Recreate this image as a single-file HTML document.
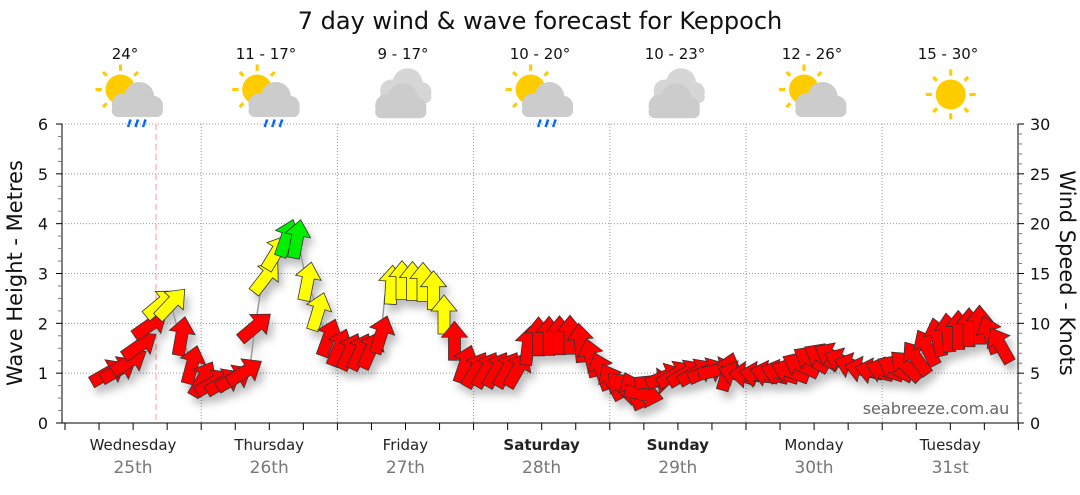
<!DOCTYPE html>
<html><head><meta charset="utf-8"><style>
body{margin:0;background:#fff;}
svg text{font-family:"DejaVu Sans","Liberation Sans",sans-serif;}
</style></head><body>
<svg id="s" width="1080" height="490" xmlns="http://www.w3.org/2000/svg">
<defs>
<filter id="sh" x="-20%" y="-20%" width="140%" height="160%"><feDropShadow dx="4" dy="7" stdDeviation="4" flood-color="#000" flood-opacity="0.25"/></filter>
<g id="cloud"><circle cx="-10" cy="2" r="9" fill="#ccc"/><circle cx="3" cy="-4" r="12" fill="#ccc"/><circle cx="14" cy="3" r="8" fill="#ccc"/><rect x="-19" y="2" width="41" height="10" rx="5" fill="#ccc"/></g>
<g id="sun"><circle r="12" fill="#fc0"/><g stroke="#fc0" stroke-width="2.5"><line x1="0" y1="-15" x2="0" y2="-20"/><line x1="0" y1="15" x2="0" y2="20"/><line x1="-15" y1="0" x2="-20" y2="0"/><line x1="15" y1="0" x2="20" y2="0"/><line x1="-11" y1="-11" x2="-14" y2="-14"/><line x1="11" y1="-11" x2="14" y2="-14"/><line x1="-11" y1="11" x2="-14" y2="14"/><line x1="11" y1="11" x2="14" y2="14"/></g></g>
<g id="rain" stroke="#06f" stroke-width="2"><line x1="-6" y1="0" x2="-8" y2="6"/><line x1="0" y1="0" x2="-2" y2="6"/><line x1="6" y1="0" x2="4" y2="6"/></g>
</defs>
<text x="540" y="29" font-size="24" text-anchor="middle" fill="#111">7 day wind &amp; wave forecast for Keppoch</text>
<g font-size="15" text-anchor="middle" fill="#111">
<text x="125" y="59">24°</text><text x="266" y="59">11 - 17°</text><text x="403" y="59">9 - 17°</text><text x="540" y="59">10 - 20°</text><text x="675" y="59">10 - 23°</text><text x="812" y="59">12 - 26°</text><text x="948" y="59">15 - 30°</text>
</g>
<g id="icons"></g>
<g id="grid" stroke="#999" stroke-width="1" stroke-dasharray="1,2"></g>
<line x1="156" y1="124" x2="156" y2="423" stroke="#f99" stroke-dasharray="6,4"/>
<g id="axes" stroke="#000" fill="none"></g>
<g id="labels"></g>
<text x="936" y="414" font-size="16" fill="#666" text-anchor="middle">seabreeze.com.au</text>
<g id="arrows" filter="url(#sh)"></g>
<text transform="translate(22,273) rotate(-90)" font-size="21" text-anchor="middle" fill="#111">Wave Height - Metres</text>
<text transform="translate(1060,273) rotate(90)" font-size="21" text-anchor="middle" fill="#111">Wind Speed - Knots</text>
</svg>
<script>
var NS="http://www.w3.org/2000/svg";
function el(p,t,a,txt){var e=document.createElementNS(NS,t);for(var k in a)e.setAttribute(k,a[k]);if(txt!=null)e.textContent=txt;p.appendChild(e);return e;}
var L=62,R=1018,T=124,B=423;
var grid=document.getElementById('grid');
for(var i=1;i<=6;i++){var y=B-i*(B-T)/6;el(grid,'line',{x1:L,y1:y,x2:R,y2:y});}
for(var d=1;d<7;d++){var x=65+d*136.2;el(grid,'line',{x1:x,y1:T,x2:x,y2:B});}
var ax=document.getElementById('axes');
el(ax,'line',{x1:L,y1:T,x2:L,y2:B});el(ax,'line',{x1:R,y1:T,x2:R,y2:B});el(ax,'line',{x1:L,y1:B,x2:R,y2:B});
var lab=document.getElementById('labels');
for(var i=0;i<=24;i++){var y=B-i*(B-T)/24;el(ax,'line',{x1:L-(i%4==0?6:4),y1:y,x2:L,y2:y,stroke:i%4==0?'#000':'#777'});}
for(var i=0;i<=6;i++){var y=B-i*(B-T)/6;el(lab,'text',{x:48,y:y+6,'font-size':16,'text-anchor':'end',fill:'#111'},i);}
for(var i=0;i<=30;i++){var y=B-i*(B-T)/30;el(ax,'line',{x1:R,y1:y,x2:R+(i%5==0?6:4),y2:y,stroke:i%5==0?'#000':'#777'});if(i%5==0)el(lab,'text',{x:1030,y:y+6,'font-size':16,fill:'#111'},i);}
for(var i=0;i<=28;i++){var x=65+i*136.2/4;el(ax,'line',{x1:x,y1:B,x2:x,y2:B+7});}
var days=[['Wednesday','25th'],['Thursday','26th'],['Friday','27th'],['Saturday','28th'],['Sunday','29th'],['Monday','30th'],['Tuesday','31st']];
days.forEach(function(d,i){var x=133+i*136.2;var b=(i==3||i==4);
el(lab,'text',{x:x,y:450,'font-size':15,'text-anchor':'middle',fill:'#222','font-weight':b?'bold':'normal'},d[0]);
el(lab,'text',{x:x,y:473,'font-size':17,'text-anchor':'middle',fill:'#777'},d[1]);});
var ic=document.getElementById('icons');
var types=['scr','scr','cc','scr','cc','sc','s'];
types.forEach(function(t,i){var x=128+i*136.7,y=97;var g=el(ic,'g',{transform:'translate('+x+','+y+') scale(1.25)'});
if(t=='s'){el(g,'use',{href:'#sun',x:2,y:-2});return;}
if(t=='cc'){el(g,'use',{href:'#cloud',x:2,y:-7,opacity:.8});el(g,'use',{href:'#cloud',x:-2,y:5});return;}
el(g,'use',{href:'#sun',x:-6,y:-6});el(g,'use',{href:'#cloud',x:6,y:4});
if(t=='scr')el(g,'use',{href:'#rain',x:8,y:18});});
var K=[[108,373,60,'R'],[125,368,60],[140,345,55],[150,325,55],[158,305,50,'Y'],[170,300,50,'Y'],[176,323,10,'R'],[185,345,10],[192,365,15],[200,378,20],[210,383,60],[225,382,60],[240,376,60],[250,367,55],[255,327,50],[262,283,40,'Y'],[270,270,35,'Y'],[278,247,30,'G'],[290,235,15,'G'],[298,240,10,'G'],[305,275,10,'Y'],[315,302,15,'Y'],[322,325,20,'R'],[332,345,20],[350,352,25],[368,352,25],[380,345,20],[385,295,10,'Y'],[395,280,0,'Y'],[430,283,0,'Y'],[440,305,0,'Y'],[450,330,0,'R'],[460,355,0],[468,370,30],[520,370,30],[525,350,10],[535,337,0],[575,335,0],[585,350,-10],[600,370,-20],[615,385,-30],[630,390,-60],[645,395,120],[655,380,80],[670,375,60],[700,372,60],[720,370,80],[740,375,-90],[760,375,-80],[790,372,-70],[810,360,-60],[830,355,-60],[850,365,-70],[870,372,-80],[890,370,-70],[910,365,-40],[925,350,-30],[940,335,-10],[960,330,0],[980,325,0],[990,335,-20],[1000,345,-30],[1010,355,-20]];
var col={R:'#ff0000',Y:'#ffff00',G:'#00ee00'};
var ar=document.getElementById('arrows');
var pts=K.map(function(k){return k[0]+','+k[1]}).join(' ');
el(ar,'polyline',{points:pts,fill:'none',stroke:'#999','stroke-width':1.5});
var cols=[],c='R';K.forEach(function(k){if(k[3])c=k[3];cols.push(c);});
var list=[];
for(var x=108;x<=1012;x+=10.5){
 for(var i=0;i<K.length-1;i++){var a=K[i],b=K[i+1];if(x>=a[0]&&x<b[0]){var t=(x-a[0])/(b[0]-a[0]);list.push([x,a[1]+(b[1]-a[1])*t,a[2]+(b[2]-a[2])*t,cols[i]]);break;}}
}
list.forEach(function(p){el(ar,'polygon',{points:'0,-20 13,-4 6,-4 6,19 -6,19 -6,-4 -13,-4',transform:'translate('+p[0]+','+p[1]+') rotate('+p[2]+')',fill:col[p[3]],stroke:'#333','stroke-width':0.8});});
</script>
</body></html>
